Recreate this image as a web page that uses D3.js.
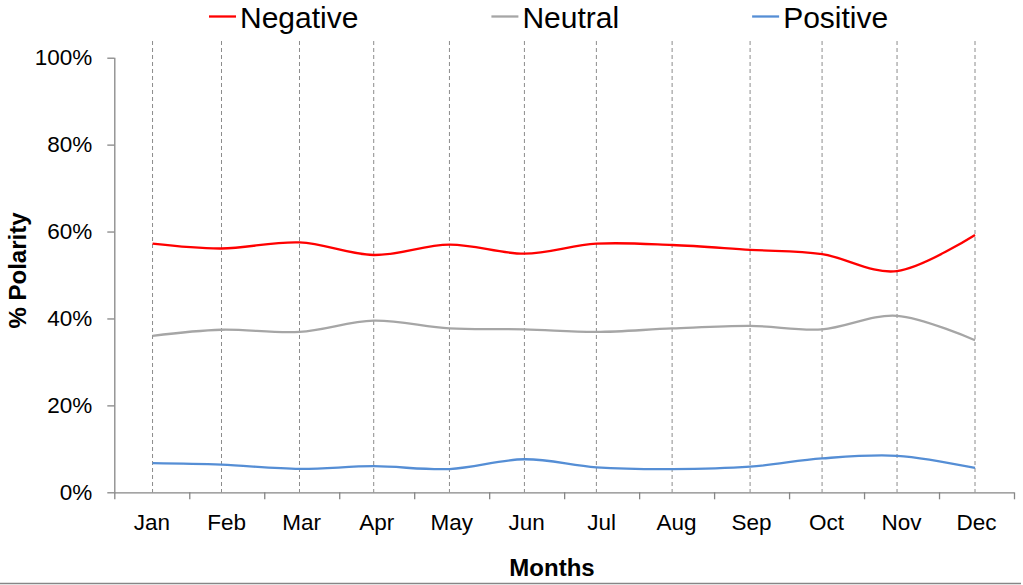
<!DOCTYPE html>
<html>
<head>
<meta charset="utf-8">
<script src="https://cdn.jsdelivr.net/npm/d3@7"></script>
<style>
	html, body { margin: 0; padding: 0; background: #fff; }
	svg { display: block; font-family: "Liberation Sans", Arial, sans-serif; }
</style>
</head>
<body>
<div id="chart"></div>
<script>
/**
 * Data
 */
const months = ["Jan", "Feb", "Mar", "Apr", "May", "Jun", "Jul", "Aug", "Sep", "Oct", "Nov", "Dec"];
// where each reading sits inside its month slot (0 = start of Jan, 12 = end of Dec)
const monthPos = [0.51, 1.43, 2.47, 3.46, 4.47, 5.47, 6.43, 7.44, 8.48, 9.44, 10.44, 11.48];
const negative = [57.2, 56.1, 57.5, 54.6, 57.0, 54.9, 57.2, 56.9, 55.8, 54.8, 50.9, 59.2];
const neutral = [36.0, 37.4, 36.9, 39.5, 37.7, 37.5, 36.9, 37.7, 38.3, 37.5, 40.6, 35.0];
const positive = [6.7, 6.35, 5.4, 6.0, 5.35, 7.6, 5.75, 5.35, 5.9, 7.8, 8.4, 5.6];
const seriesNames = ["Negative", "Neutral", "Positive"];
const yTicks = [0, 20, 40, 60, 80, 100];

/**
 * Layout
 */
let width = 1023;
let height = 585;
let margin = { top: 57.7, right: 9, bottom: 92.7, left: 114.3 };
let colors = { Negative: "#ff0000", Neutral: "#a6a6a6", Positive: "#558ed5" };
let axisColor = "#868686";

let series = [
	{ key: "Negative", values: negative },
	{ key: "Neutral", values: neutral },
	{ key: "Positive", values: positive }
];

let svg = d3.select("#chart").append("svg")
	.attr("width", width)
	.attr("height", height);

let x = d3.scaleLinear()
	.domain([0, months.length])
	.range([margin.left, width - margin.right]);

let y = d3.scaleLinear()
	.domain([0, 100])
	.range([height - margin.bottom, margin.top]);

// Drop lines at every reading
svg.append("g")
	.selectAll("line")
	.data(monthPos)
	.enter()
	.append("line")
	.attr("x1", function(d) { return x(d); })
	.attr("x2", function(d) { return x(d); })
	.attr("y1", 41)
	.attr("y2", y(0))
	.attr("stroke", "#8c8c8c")
	.attr("stroke-width", 1)
	.attr("stroke-dasharray", "4,3");

// Y axis
let yAxis = svg.append("g")
	.attr("transform", "translate(" + margin.left + ",0)")
	.call(d3.axisLeft(y)
		.tickValues(yTicks)
		.tickSize(7)
		.tickPadding(15)
		.tickFormat(function(d) { return d + "%"; }));

// X axis, ticks at slot boundaries and labels in the middle of each slot
let xAxis = svg.append("g")
	.attr("transform", "translate(0," + y(0) + ")")
	.call(d3.axisBottom(x)
		.tickValues(d3.range(0, months.length + 1))
		.tickSize(7)
		.tickFormat(""));

svg.append("g")
	.selectAll("text")
	.data(months)
	.enter()
	.append("text")
	.attr("x", function(d, i) { return x(i + 0.5); })
	.attr("y", 530)
	.attr("text-anchor", "middle")
	.attr("font-size", "22.5px")
	.attr("fill", "#000")
	.text(function(d) { return d; });

[yAxis, xAxis].forEach(function(g) {
	g.select(".domain").attr("stroke", axisColor).attr("stroke-width", 1.3);
	g.selectAll(".tick line").attr("stroke", axisColor).attr("stroke-width", 1.3);
	g.selectAll(".tick text").attr("font-size", "22.5px").attr("fill", "#000");
});
yAxis.select(".domain").attr("d", "M0.5," + y(100) + "V" + y(0));
xAxis.select(".domain").attr("d", "M" + x(0) + ",0.5H" + x(months.length));

// Axis titles
svg.append("text")
	.attr("transform", "rotate(-90)")
	.attr("x", -270.5)
	.attr("y", 25.5)
	.attr("text-anchor", "middle")
	.attr("font-size", "24px")
	.attr("font-weight", "bold")
	.text("% Polarity");

svg.append("text")
	.attr("x", 552)
	.attr("y", 576)
	.attr("text-anchor", "middle")
	.attr("font-size", "24px")
	.attr("font-weight", "bold")
	.text("Months");

// Smoothed lines
let line = d3.line()
	.x(function(d, i) { return x(monthPos[i]); })
	.y(function(d) { return y(d); })
	.curve(d3.curveCardinal.tension(0));

svg.append("g")
	.selectAll("path")
	.data(series)
	.enter()
	.append("path")
	.attr("fill", "none")
	.attr("stroke", function(d) { return colors[d.key]; })
	.attr("stroke-width", 2.3)
	.attr("stroke-linejoin", "round")
	.attr("d", function(d) { return line(d.values); });

// Legend
let legend = svg.append("g");
let lx = 209;
seriesNames.forEach(function(name) {
	legend.append("line")
		.attr("x1", lx)
		.attr("x2", lx + 27)
		.attr("y1", 16.5)
		.attr("y2", 16.5)
		.attr("stroke", colors[name])
		.attr("stroke-width", 2.3);
	let t = legend.append("text")
		.attr("x", lx + 31)
		.attr("y", 28)
		.attr("font-size", "30px")
		.attr("fill", "#000")
		.text(name);
	lx += 31 + t.node().getComputedTextLength() + 133;
});

// Chart frame bottom edge
svg.append("line")
	.attr("x1", 0)
	.attr("x2", 1021)
	.attr("y1", 583.5)
	.attr("y2", 583.5)
	.attr("stroke", axisColor)
	.attr("stroke-width", 1.3);
</script>
</body>
</html>
